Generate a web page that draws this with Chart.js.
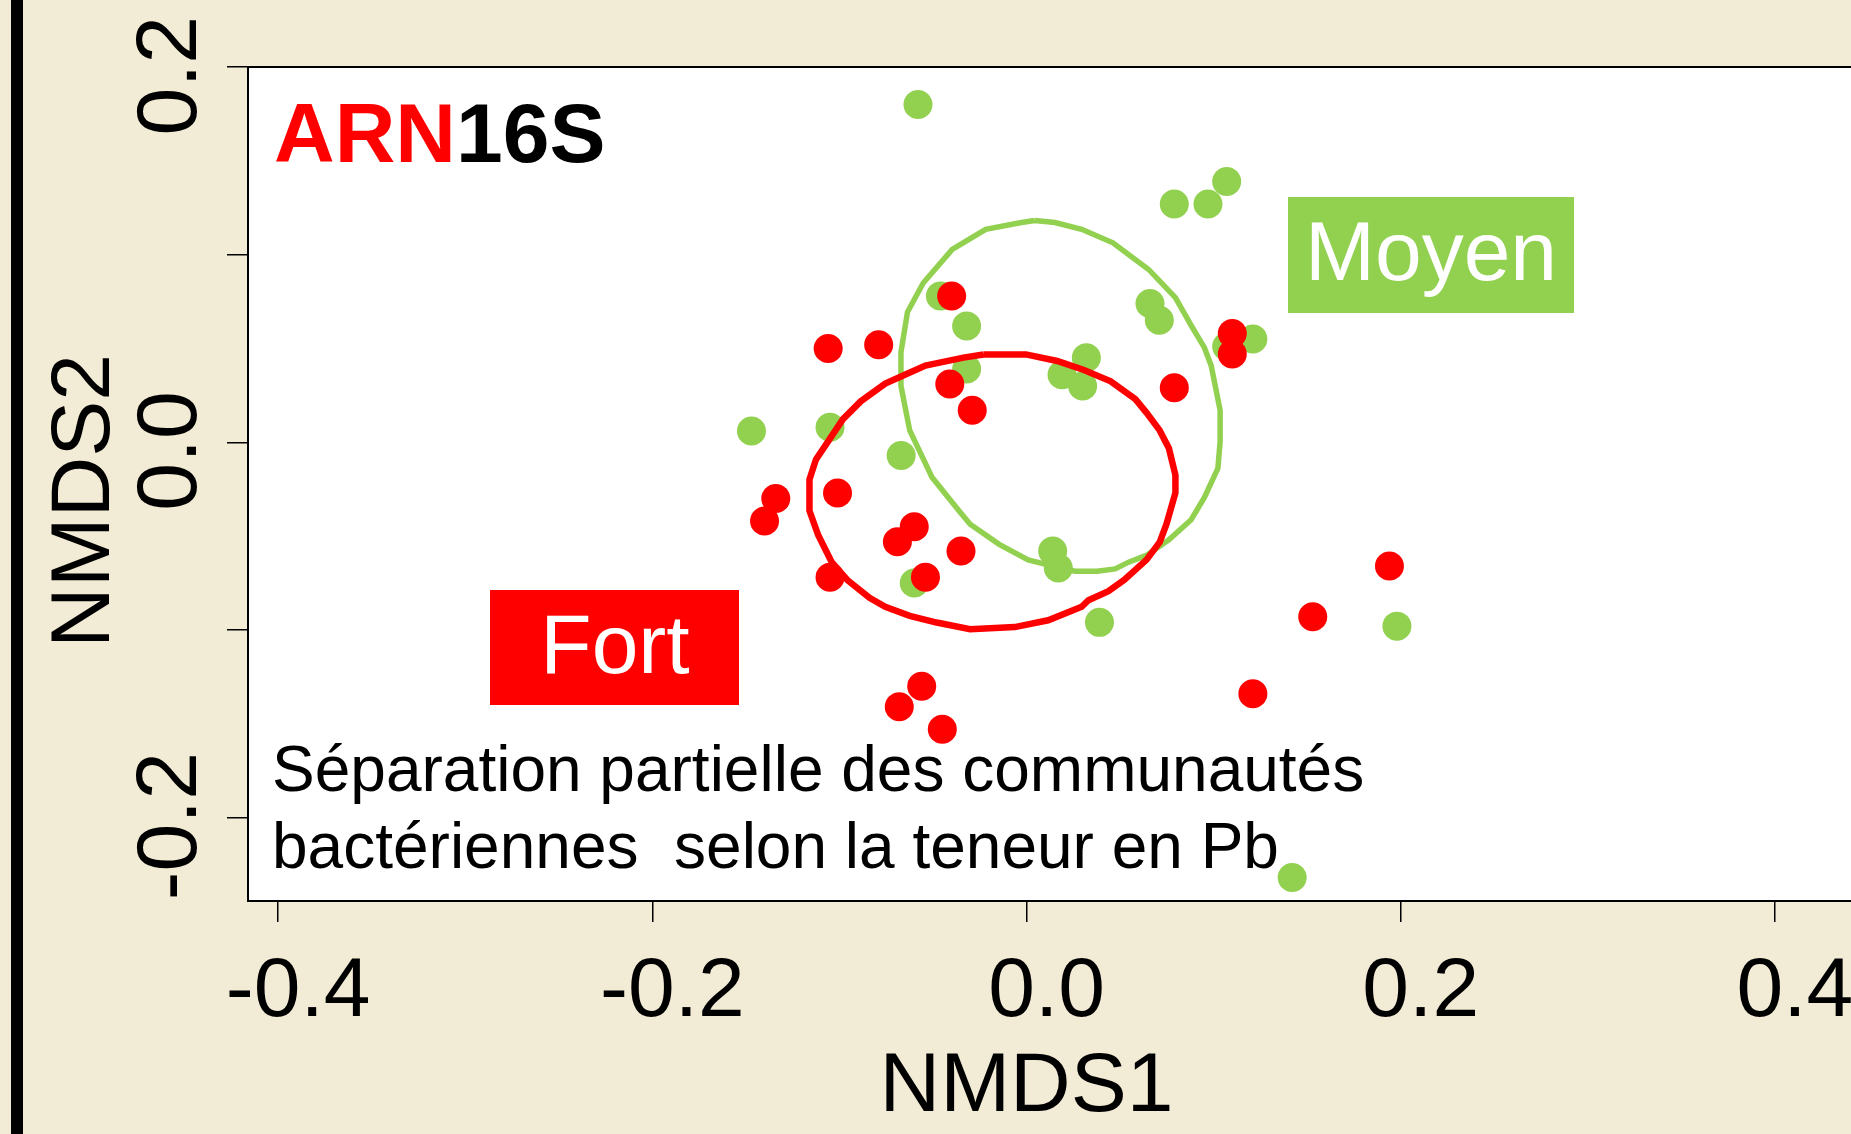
<!DOCTYPE html>
<html>
<head>
<meta charset="utf-8">
<script src="https://cdn.jsdelivr.net/npm/chart.js@4.4.1/dist/chart.umd.min.js"></script>
<style>
  html, body { margin: 0; padding: 0; background: #f2ebd5; }
  canvas { display: block; }
</style>
</head>
<body>
<canvas id="myChart" width="1851" height="1134"></canvas>
<script>
// NMDS ARN16S : teneur en Pb "Fort" (rouge) / "Moyen" (vert)
const fortX = [-0.040, -0.106, -0.079, -0.041, -0.029, 0.110, 0.110, 0.079, -0.134, -0.140, -0.101,
               -0.060, -0.069, -0.035, -0.105, -0.054, -0.056, -0.068, -0.045, 0.194, 0.153, 0.121];
const fortY = [0.078, 0.050, 0.052, 0.031, 0.017, 0.058, 0.047, 0.029, -0.030, -0.042, -0.027,
               -0.045, -0.053, -0.058, -0.072, -0.072, -0.130, -0.141, -0.153, -0.066, -0.093, -0.134];

const moyenX = [-0.058, -0.046, -0.032, -0.032, 0.032, 0.019, 0.030, -0.147, -0.105, -0.067, 0.079, 0.097,
                0.107, 0.066, 0.071, 0.107, 0.121, -0.060, 0.014, 0.017, 0.039, 0.198, 0.142];
const moyenY = [0.180, 0.078, 0.062, 0.039, 0.045, 0.036, 0.030, 0.006, 0.008, -0.007, 0.127, 0.127,
                0.139, 0.074, 0.065, 0.051, 0.055, -0.075, -0.058, -0.067, -0.096, -0.098, -0.232];

// contours des ellipses
const ellFortX = [-0.0230, -0.0003, 0.0164, 0.0307, 0.0450, 0.0582, 0.0641, 0.0712, 0.0761, 0.0796, 0.0796,
                  0.0748, 0.0712, 0.0641, 0.0522, 0.0438, 0.0331, 0.0295, 0.0116, -0.0063, -0.0301, -0.0480,
                  -0.0624, -0.0755, -0.0839, -0.0958, -0.1041, -0.1113, -0.1160, -0.1160, -0.1125, -0.1053,
                  -0.0981, -0.0886, -0.0755, -0.0647, -0.0540, -0.0337, -0.0230];
const ellFortY = [0.0468, 0.0468, 0.0433, 0.0385, 0.0325, 0.0230, 0.0158, 0.0063, -0.0032, -0.0175, -0.0270,
                  -0.0437, -0.0532, -0.0627, -0.0734, -0.0794, -0.0842, -0.0877, -0.0949, -0.0985, -0.0996, -0.0961,
                  -0.0925, -0.0877, -0.0829, -0.0734, -0.0639, -0.0496, -0.0365, -0.0198, -0.0091, 0.0015,
                  0.0123, 0.0218, 0.0313, 0.0361, 0.0409, 0.0451, 0.0468];

const ellMoyenX = [0.0044, 0.0152, 0.0295, 0.0462, 0.0653, 0.0796, 0.0880, 0.0951, 0.0987, 0.1035, 0.1035,
                   0.1023, 0.0951, 0.0880, 0.0761, 0.0641, 0.0546, 0.0474, 0.0378, 0.0259, 0.0104, 0.0009,
                   -0.0146, -0.0301, -0.0361, -0.0505, -0.0624, -0.0671, -0.0671, -0.0636, -0.0552, -0.0397,
                   -0.0218, -0.0027, 0.0044];
const ellMoyenY = [0.1182, 0.1171, 0.1135, 0.1063, 0.0921, 0.0771, 0.0623, 0.0504, 0.0409, 0.0171, 0.0004,
                   -0.0139, -0.0294, -0.0413, -0.0520, -0.0603, -0.0639, -0.0675, -0.0687, -0.0687, -0.0651, -0.0627,
                   -0.0544, -0.0437, -0.0365, -0.0187, 0.0063, 0.0301, 0.0480, 0.0694, 0.0849, 0.1028,
                   0.1135, 0.1171, 0.1182];

const xTicks = [-0.4, -0.2, 0.0, 0.2, 0.4];
const xLabels = ['-0.4', '-0.2', '0.0', '0.2', '0.4'];
const yTicks = [-0.2, -0.1, 0.0, 0.1, 0.2];
const yLabels = ['-0.2', '', '0.0', '', '0.2'];

const RED = '#ff0000';
const GREEN = '#92d050';
const FONT = '"Liberation Sans", Arial, sans-serif';

const pts = (xs, ys) => xs.map((x, i) => ({x: x, y: ys[i]}));

Chart.defaults.font.family = FONT;
Chart.defaults.color = '#000';

// fond, cadre, titres d'axes et textes ajoutés sur la figure
const decor = {
  id: 'decor',
  beforeDraw(chart) {
    const {ctx, chartArea: a} = chart;
    ctx.save();
    ctx.fillStyle = '#f2ebd5';
    ctx.fillRect(0, 0, chart.width, chart.height);
    ctx.fillStyle = '#000';
    ctx.fillRect(11, 0, 12, chart.height);
    ctx.fillStyle = '#fff';
    ctx.fillRect(a.left, a.top, a.right - a.left, a.bottom - a.top);
    ctx.restore();
  },
  afterDraw(chart) {
    const {ctx, chartArea: a} = chart;
    ctx.save();
    ctx.strokeStyle = '#000';
    ctx.lineWidth = 2;
    ctx.beginPath();
    ctx.moveTo(a.left, a.top);
    ctx.lineTo(a.right, a.top);
    ctx.stroke();

    // titres des axes
    ctx.fillStyle = '#000';
    ctx.font = '84px ' + FONT;
    ctx.textAlign = 'center';
    ctx.textBaseline = 'alphabetic';
    ctx.fillText('NMDS1', chart.scales.x.getPixelForValue(0), 1111);
    ctx.save();
    ctx.translate(109, 501);
    ctx.rotate(-Math.PI / 2);
    ctx.fillText('NMDS2', 0, 0);
    ctx.restore();

    ctx.textAlign = 'left';
    ctx.font = 'bold 84px ' + FONT;
    ctx.fillStyle = RED;
    ctx.fillText('ARN', 274, 162);
    const w = ctx.measureText('ARN').width;
    ctx.fillStyle = '#000';
    ctx.fillText('16S', 274 + w, 162);

    // étiquettes des groupes
    ctx.fillStyle = GREEN;
    ctx.fillRect(1288, 197, 286, 116);
    ctx.fillStyle = RED;
    ctx.fillRect(490, 590, 249, 115);
    ctx.font = '84px ' + FONT;
    ctx.fillStyle = '#fff';
    ctx.textAlign = 'center';
    ctx.fillText('Moyen', 1431, 280);
    ctx.fillText('Fort', 615, 673);

    ctx.textAlign = 'left';
    ctx.fillStyle = '#000';
    ctx.font = '64px ' + FONT;
    ctx.fillText('Séparation partielle des communautés', 272, 791);
    ctx.fillText('bactériennes  selon la teneur en Pb', 272, 868);
    ctx.restore();
  }
};

const ctx = document.getElementById('myChart');
new Chart(ctx, {
  type: 'scatter',
  data: {
    datasets: [
      {
        label: 'ellipse Fort',
        data: pts(ellFortX, ellFortY),
        showLine: true, fill: false, tension: 0,
        borderColor: RED, borderWidth: 6.5, pointRadius: 0
      },
      {
        label: 'ellipse Moyen',
        data: pts(ellMoyenX, ellMoyenY),
        showLine: true, fill: false, tension: 0,
        borderColor: GREEN, borderWidth: 5.5, pointRadius: 0
      },
      {
        label: 'Fort',
        data: pts(fortX, fortY),
        backgroundColor: RED, borderWidth: 0, pointRadius: 14.5, pointHoverRadius: 14.5
      },
      {
        label: 'Moyen',
        data: pts(moyenX, moyenY),
        backgroundColor: GREEN, borderWidth: 0, pointRadius: 14.5, pointHoverRadius: 14.5
      }
    ]
  },
  options: {
    responsive: false,
    animation: false,
    devicePixelRatio: 1,
    events: [],
    layout: { autoPadding: false, padding: { left: 0, top: 67, right: 0, bottom: 0 } },
    plugins: { legend: { display: false }, tooltip: { enabled: false } },
    scales: {
      x: {
        type: 'linear',
        min: -0.4161, max: 0.4407,
        afterBuildTicks: s => { s.ticks = xTicks.map(v => ({value: v})); },
        afterFit: s => { s.height = 233; s.paddingLeft = 0; s.paddingRight = 0; },
        grid: { drawOnChartArea: false, tickLength: 21, color: '#000', lineWidth: 1.5 },
        border: { display: true, color: '#000', width: 2 },
        ticks: {
          font: { size: 84 }, color: '#000', padding: 20, maxRotation: 0, autoSkip: false,
          // libellés un peu décalés vers la droite, comme sur la figure
          callback: (v, i) => ' \u2009' + xLabels[i]
        },
        title: { display: false }
      },
      y: {
        type: 'linear',
        min: -0.2445, max: 0.2,
        afterBuildTicks: s => { s.ticks = yTicks.map(v => ({value: v})); },
        afterFit: s => { s.width = 248; },
        grid: { drawOnChartArea: false, tickLength: 21, color: '#000', lineWidth: 1.5 },
        border: { display: true, color: '#000', width: 2 },
        ticks: {
          font: { size: 86 }, color: '#000', minRotation: 90, maxRotation: 90,
          crossAlign: 'center', padding: -28, autoSkip: false,
          callback: (v, i) => yLabels[i] ? yLabels[i] + '\u2009' : ''
        },
        title: { display: false }
      }
    }
  },
  plugins: [decor]
});
</script>
</body>
</html>
